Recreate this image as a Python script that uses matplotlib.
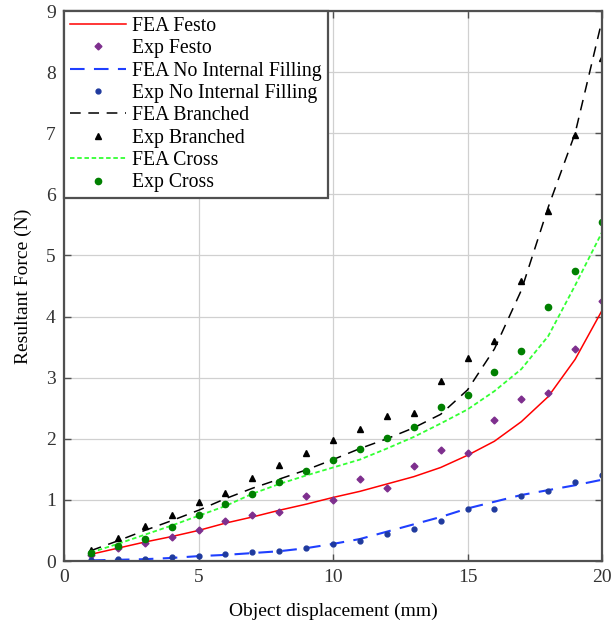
import matplotlib
matplotlib.use("Agg")
import matplotlib.pyplot as plt

plt.rcParams['font.family'] = ['Liberation Serif', 'DejaVu Serif']
plt.rcParams['mathtext.fontset'] = 'stix'

x = list(range(1, 21))

fea_festo = [0.11, 0.21, 0.31, 0.40, 0.50, 0.62, 0.72, 0.83, 0.93, 1.04,
             1.14, 1.26, 1.38, 1.53, 1.73, 1.96, 2.28, 2.69, 3.30, 4.10]
exp_festo = [0.10, 0.22, 0.29, 0.40, 0.50, 0.65, 0.76, 0.80, 1.06, 1.00,
             1.34, 1.19, 1.56, 1.81, 1.77, 2.31, 2.65, 2.75, 3.47, 4.25]
fea_noint = [0.01, 0.02, 0.03, 0.05, 0.08, 0.10, 0.13, 0.16, 0.21, 0.28,
             0.36, 0.48, 0.60, 0.72, 0.86, 0.97, 1.08, 1.16, 1.24, 1.33]
exp_noint = [0.02, 0.03, 0.04, 0.07, 0.09, 0.11, 0.14, 0.17, 0.22, 0.28,
             0.32, 0.44, 0.53, 0.65, 0.85, 0.85, 1.06, 1.14, 1.30, 1.40]
fea_branch = [0.17, 0.33, 0.50, 0.66, 0.83, 1.02, 1.19, 1.34, 1.49, 1.66,
              1.84, 2.00, 2.18, 2.40, 2.80, 3.47, 4.43, 5.79, 7.00, 8.85]
exp_branch = [0.18, 0.37, 0.58, 0.76, 0.97, 1.11, 1.36, 1.57, 1.77, 1.98,
              2.16, 2.37, 2.43, 2.95, 3.33, 3.60, 4.59, 5.72, 6.97, 8.23]
fea_cross = [0.14, 0.28, 0.43, 0.58, 0.74, 0.90, 1.10, 1.26, 1.40, 1.53,
             1.66, 1.84, 2.03, 2.25, 2.48, 2.78, 3.14, 3.68, 4.51, 5.38]
exp_cross = [0.13, 0.25, 0.36, 0.56, 0.75, 0.93, 1.10, 1.30, 1.47, 1.65,
             1.83, 2.02, 2.20, 2.52, 2.72, 3.10, 3.43, 4.15, 4.75, 5.55]

xticks = [0, 5, 10, 15, 20]
yticks = list(range(0, 10))

fig = plt.figure(figsize=(6.12, 6.23), dpi=100)
ax = fig.add_axes([0.1046, 0.0995, 0.8791, 0.8828])

ax.plot(x, fea_festo, color='#ff0000', lw=1.1, label='FEA Festo')
ax.plot(x, exp_festo, linestyle='none', marker='D', ms=3.5, color='#7e2f8e',
        label='Exp Festo')
ax.plot(x, fea_noint, color='#1f3fff', lw=1.5, dashes=(7, 4.5),
        label='FEA No Internal Filling')
ax.plot(x, exp_noint, linestyle='none', marker='o', ms=3.5, color='#1f3a9e',
        label='Exp No Internal Filling')
ax.plot(x, fea_branch, color='black', lw=1.1, dashes=(7, 5),
        label='FEA Branched')
ax.plot(x, exp_branch, linestyle='none', marker='^', ms=5, color='black',
        label='Exp Branched')
ax.plot(x, fea_cross, color='#33ff33', lw=1.3, dashes=(2.5, 1.5),
        label='FEA Cross')
ax.plot(x, exp_cross, linestyle='none', marker='o', ms=4.5, color='#008000',
        label='Exp Cross')

ax.set_xlim(0, 20)
ax.set_ylim(0, 9)
ax.set_xticks(xticks)
ax.set_yticks(yticks)
ax.grid(True, color='#d0d0d0', lw=0.9)
ax.set_axisbelow(True)
for s in ax.spines.values():
    s.set_color('#505050')
    s.set_linewidth(1.6)
ax.tick_params(direction='in', top=True, right=True, length=5, width=1,
               color='#505050', labelsize=14, labelcolor='#333333', pad=6)
ax.set_xlabel('Object displacement (mm)', fontsize=14, labelpad=12)
ax.set_ylabel('Resultant Force (N)', fontsize=14, labelpad=10)

leg = ax.legend(loc='upper left', fontsize=14.2, frameon=True, fancybox=False,
                borderaxespad=0, labelspacing=0.17, handlelength=2.85,
                handletextpad=0.3, borderpad=0.3, framealpha=1)
leg.get_frame().set_edgecolor('#505050')
leg.get_frame().set_linewidth(1.6)

fig.savefig('out.png', dpi=100)
